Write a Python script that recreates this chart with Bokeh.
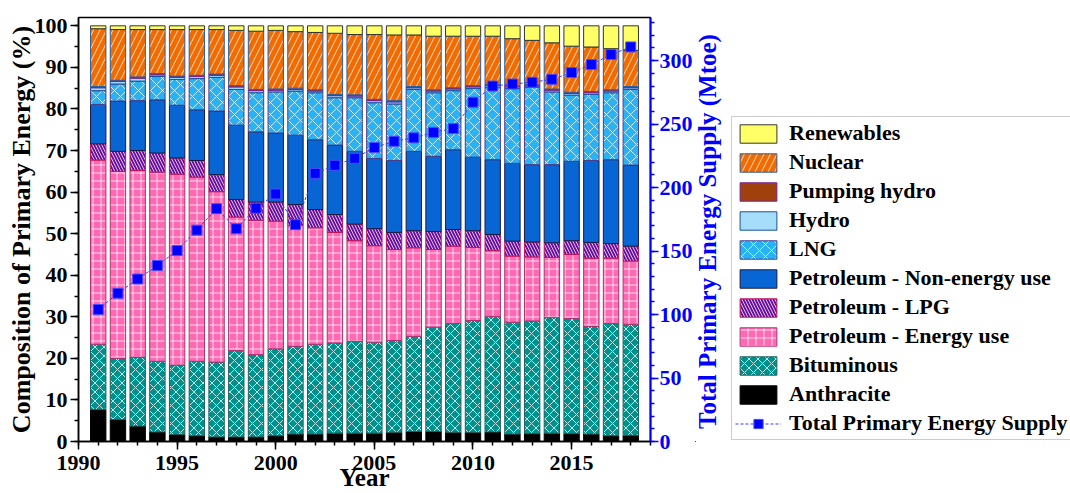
import math
from bokeh.plotting import figure
from bokeh.layouts import row
from bokeh.models import (Range1d, LinearAxis, SingleIntervalTicker, Legend,
                          LegendItem, Label, ColumnDataSource)
from bokeh.embed import file_html
from bokeh.resources import INLINE

years = list(range(1991, 2019))

anthracite = [7.7, 5.3, 3.7, 2.3, 1.7, 1.4, 1.1, 1.1, 1.1, 1.4, 1.8, 1.8, 2.0, 2.0,
              2.0, 2.2, 2.4, 2.4, 2.2, 2.2, 2.3, 1.8, 1.9, 2.0, 1.9, 1.8, 1.4, 1.5]
bituminous = [15.7, 14.7, 16.6, 17.0, 16.7, 17.9, 18.0, 20.8, 19.8, 20.9, 21.1, 21.6, 21.7, 22.1,
              21.9, 22.1, 22.9, 25.1, 26.2, 26.9, 27.8, 26.9, 27.1, 27.8, 27.7, 25.9, 27.0, 26.7]
pet_energy = [44.3, 45.0, 44.9, 45.5, 45.9, 44.3, 41.0, 32.1, 32.3, 30.7, 29.1, 28.0, 26.6, 24.2,
              23.2, 21.9, 21.3, 18.7, 18.6, 17.6, 15.8, 15.9, 15.4, 14.5, 15.4, 16.4, 15.7, 15.2]
pet_lpg = [3.9, 4.8, 4.8, 4.6, 3.9, 4.0, 4.1, 4.2, 4.4, 4.6, 5.0, 4.4, 4.3, 4.0,
           4.1, 4.1, 4.1, 4.3, 4.0, 4.0, 3.9, 3.6, 3.6, 3.5, 3.3, 3.8, 3.5, 3.6]
pet_nonenergy = [9.5, 12.1, 12.0, 12.8, 12.7, 12.2, 15.3, 17.9, 16.9, 16.6, 16.7, 16.8, 16.7, 17.5,
                 16.9, 17.3, 19.1, 18.1, 19.2, 17.7, 18.0, 18.7, 18.6, 18.8, 19.1, 19.7, 20.2, 19.5]
lng = [3.3, 4.1, 4.7, 5.6, 6.2, 7.5, 8.1, 8.6, 9.4, 9.9, 10.6, 11.3, 11.4, 12.9,
       13.4, 13.6, 14.9, 15.3, 14.2, 16.5, 17.4, 18.0, 18.6, 17.5, 15.9, 15.9, 16.1, 18.2]
hydro = [0.7, 0.6, 0.7, 0.4, 0.5, 0.5, 0.5, 0.6, 0.5, 0.4, 0.4, 0.4, 0.5, 0.4,
         0.5, 0.5, 0.4, 0.4, 0.4, 0.4, 0.4, 0.4, 0.3, 0.4, 0.4, 0.4, 0.4, 0.4]
pumping_hydro = [0.3] * 28
nuclear = [13.9, 12.2, 11.4, 10.6, 11.2, 11.0, 10.7, 13.3, 14.0, 14.1, 13.6, 13.8, 14.7, 14.5,
           15.6, 15.8, 12.4, 12.9, 12.4, 11.9, 11.6, 11.3, 10.7, 11.1, 11.1, 10.7, 9.9, 8.7]
renewables = [0.7, 0.9, 0.9, 0.9, 0.9, 0.9, 0.9, 1.1, 1.3, 1.1, 1.4, 1.6, 1.8, 2.1,
              2.1, 2.2, 2.2, 2.5, 2.5, 2.5, 2.5, 3.1, 3.5, 4.1, 4.9, 5.1, 5.5, 5.9]
tpes = [104.0, 116.8, 128.0, 138.6, 150.4, 166.5, 183.4, 167.6, 183.8, 195.0, 170.8, 211.2, 217.6, 223.1,
        231.5, 236.5, 239.2, 243.5, 246.5, 267.3, 280.0, 281.6, 283.0, 285.3, 290.6, 296.9, 304.8, 310.8]

stack_names = ["Anthracite", "Bituminous", "Petroleum - Energy use", "Petroleum - LPG",
               "Petroleum - Non-energy use", "LNG", "Hydro", "Pumping hydro", "Nuclear", "Renewables"]
stack_values = [anthracite, bituminous, pet_energy, pet_lpg, pet_nonenergy, lng, hydro,
                pumping_hydro, nuclear, renewables]
legend_order = ["Renewables", "Nuclear", "Pumping hydro", "Hydro", "LNG", "Petroleum - Non-energy use",
                "Petroleum - LPG", "Petroleum - Energy use", "Bituminous", "Anthracite"]

fills = ["#000000", "#00918C", "#FF69B4", "#6A0FA0", "#0866D4", "#29B3F5", "#A6DDFB",
         "#A0410D", "#F26B00", "#FFFF66"]
lines = ["#000000", "#1F6060", "#B0306F", "#C8105A", "#1A1A40", "#4A3C8A", "#1A4F9F",
         "#7A1FA0", "#2A5FA0", "#333333"]
hatches = [" ", "x", "+", "\\", " ", "x", " ", " ", "/", " "]
hscales = [10, 9, 8, 6, 10, 12, 10, 10, 13, 10]
styles = {n: dict(fill_color=f, line_color=l, hatch_pattern=h, hatch_scale=s)
          for n, f, l, h, s in zip(stack_names, fills, lines, hatches, hscales)}

data = {"year": years}
for n, v in zip(stack_names, stack_values):
    data[n] = v
src = ColumnDataSource(data)

FONT = "Liberation Serif"
BLUE = "#0000FF"

fig = figure(width=695, height=493, x_range=Range1d(1990, 2019), y_range=Range1d(0, 102),
             output_backend="svg", toolbar_location=None,
             min_border_left=78, min_border_right=43, min_border_top=17, min_border_bottom=52)
fig.extra_y_ranges = {"tpes": Range1d(0, 334)}
fig.xgrid.visible = False
fig.ygrid.visible = False
fig.outline_line_color = "black"
fig.outline_line_width = 1.5

rends = fig.vbar_stack(stack_names, x="year", width=0.78, source=src,
                       fill_color=fills, line_color=lines, line_width=1,
                       hatch_pattern=hatches, hatch_color="white", hatch_alpha=0.75,
                       hatch_scale=hscales, hatch_weight=1)

line_style = dict(line_color="#3A3AFF", line_width=1, line_dash="3 2")
sq_style = dict(marker="square", size=10, fill_color=BLUE, line_color="#4C4CFF", line_width=1)
fig.line(years, tpes, y_range_name="tpes", **line_style)
fig.scatter(years, tpes, y_range_name="tpes", **sq_style)

ya = fig.yaxis[0]
ya.ticker = SingleIntervalTicker(interval=10, num_minor_ticks=2)
ya.axis_label = "Composition of Primary Energy (%)"
xa = fig.xaxis[0]
xa.ticker = SingleIntervalTicker(interval=5, num_minor_ticks=5)
xa.axis_label = "Year"
for ax in (ya, xa):
    ax.axis_label_text_font = FONT
    ax.axis_label_text_font_style = "bold"
    ax.axis_label_text_font_size = "26px"
    ax.axis_label_text_color = "black"
    ax.major_label_text_font = FONT
    ax.major_label_text_font_style = "bold"
    ax.major_label_text_font_size = "22px"
    ax.major_label_text_color = "black"
    ax.axis_line_width = 1.5
    ax.major_tick_line_width = 1.5
    ax.minor_tick_line_width = 1.5
    ax.major_tick_out = 8
    ax.major_tick_in = 0
    ax.minor_tick_out = 4
    ax.minor_tick_in = 0
    ax.major_label_standoff = 3
ya.axis_label_standoff = -4
xa.axis_label_text_font_size = "25px"
xa.major_label_standoff = 6
xa.axis_label_standoff = -9

ra = LinearAxis(y_range_name="tpes", ticker=SingleIntervalTicker(interval=50, num_minor_ticks=5))
ra.major_label_text_font = FONT
ra.major_label_text_font_style = "bold"
ra.major_label_text_font_size = "22px"
ra.major_label_text_color = BLUE
ra.axis_line_color = BLUE
ra.axis_line_width = 2
ra.major_tick_line_color = BLUE
ra.minor_tick_line_color = BLUE
ra.major_tick_line_width = 1.5
ra.minor_tick_line_width = 1.5
ra.major_tick_out = 8
ra.major_tick_in = 0
ra.minor_tick_out = 4
ra.minor_tick_in = 0
ra.major_label_standoff = 1
fig.add_layout(ra, "right")

# side panel: right-axis title and legend (its frame is aligned with the main frame)
side = figure(width=375, height=493, x_range=Range1d(0, 1), y_range=Range1d(0, 1),
              output_backend="svg", toolbar_location=None,
              x_axis_location=None, y_axis_location=None, min_border=0)
side.outline_line_color = None
side.xgrid.visible = False
side.ygrid.visible = False

side.add_layout(Label(x=12, y=210, x_units="screen", y_units="screen",
                      text="Total Primary Energy Supply (Mtoe)", angle=math.pi / 2,
                      text_font=FONT, text_font_style="bold", text_font_size="25px",
                      text_color=BLUE, text_align="center", text_baseline="middle"))

items = []
for n in legend_order:
    r = side.vbar(x=[-5], top=[-5], width=0.5, line_width=1, hatch_color="white",
                  hatch_alpha=0.75, hatch_weight=1, **styles[n])
    items.append(LegendItem(label=n, renderers=[r]))
lr2 = side.line([-5, -4], [-5, -4], **line_style)
sr2 = side.scatter([-5], [-5], **sq_style)
items.append(LegendItem(label="Total Primary Energy Supply", renderers=[lr2, sr2]))

legend = Legend(items=items, location=(36, 1), orientation="vertical",
                label_text_font=FONT, label_text_font_style="bold", label_text_font_size="22px",
                label_text_color="black",
                glyph_width=46, glyph_height=23, label_height=23, label_standoff=8,
                spacing=3, padding=3, margin=0,
                border_line_color="#999999", border_line_width=1,
                background_fill_color="white", background_fill_alpha=1)
side.add_layout(legend)

p = row(fig, side)
open("out.html", "w").write(file_html(p, INLINE))
